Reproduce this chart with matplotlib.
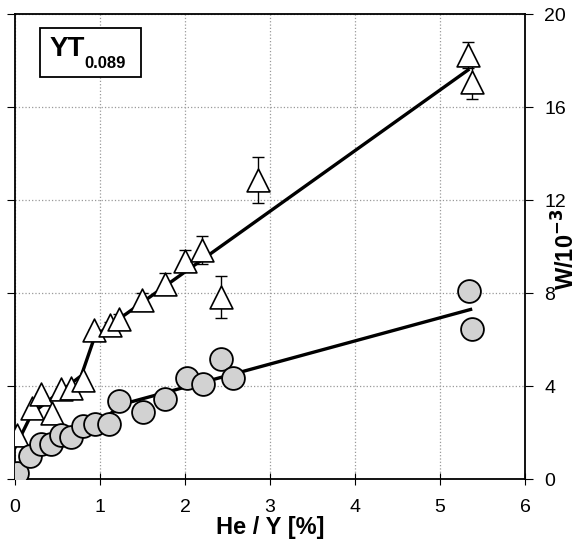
import numpy as np
import matplotlib.pyplot as plt
from matplotlib.patches import Rectangle

plt.rcParams['font.family'] = ['Liberation Sans', 'DejaVu Sans']

# triangles (with error bars)
tri_x = [0.02, 0.20, 0.31, 0.43, 0.54, 0.66, 0.80, 0.93, 1.12, 1.22, 1.50, 1.76, 2.00, 2.20, 2.42, 2.86, 5.33, 5.38]
tri_y = [1.9, 3.05, 3.66, 2.85, 3.87, 3.91, 4.26, 6.41, 6.62, 6.91, 7.70, 8.41, 9.40, 9.85, 7.84, 12.86, 18.24, 17.09]
tri_err = [0, 0, 0, 0, 0, 0, 0, 0, 0.15, 0.2, 0.3, 0.45, 0.45, 0.6, 0.9, 1.0, 0.55, 0.75]
tri_fit_x = [0.0, 0.20, 0.42, 0.78, 0.94, 5.33]
tri_fit_y = [1.35, 2.83, 3.45, 4.45, 6.15, 17.6]

# circles
circ_x = [0.02, 0.18, 0.31, 0.42, 0.54, 0.66, 0.80, 0.94, 1.11, 1.22, 1.51, 1.76, 2.02, 2.21, 2.42, 2.56, 5.34, 5.38]
circ_y = [0.27, 0.99, 1.53, 1.53, 1.89, 1.82, 2.29, 2.37, 2.39, 3.37, 2.87, 3.47, 4.36, 4.11, 5.19, 4.36, 8.10, 6.48]
circ_fit_x = [0.06, 0.22, 0.45, 0.75, 1.04, 1.29, 5.36]
circ_fit_y = [0.46, 1.25, 1.75, 2.2, 2.61, 3.25, 7.30]

fig = plt.figure(figsize=(5.85, 5.47), dpi=100)
ax = fig.add_axes([0.0256, 0.124, 0.8718, 0.850])

ax.grid(True, color='#999999', linestyle=':', linewidth=0.9)
ax.set_axisbelow(True)

ax.plot(tri_fit_x, tri_fit_y, color='black', lw=2.4, zorder=2)
ax.plot(circ_fit_x, circ_fit_y, color='black', lw=2.4, zorder=2)

ax.errorbar(tri_x, tri_y, yerr=tri_err, fmt='none', ecolor='black', elinewidth=1, capsize=4, capthick=1, zorder=3)
ax.scatter(tri_x, tri_y, marker='^', s=270, facecolor='white', edgecolor='black', linewidths=1.2, zorder=4)
ax.scatter(circ_x, circ_y, marker='o', s=270, facecolor='#d2d2d2', edgecolor='black', linewidths=1.3, zorder=4)

ax.set_xlim(0, 6)
ax.set_ylim(0, 20)
ax.set_xticks(range(7))
ax.set_yticks([0, 4, 8, 12, 16, 20])
ax.yaxis.tick_right()
ax.tick_params(axis='y', direction='out', length=6, labelsize=14, pad=8, left=True)
ax.tick_params(axis='x', direction='inout', length=8, labelsize=14, pad=10)
for s in ax.spines.values():
    s.set_linewidth(1.3)

ax.set_xlabel('He / Y [%]', fontsize=17, fontweight='bold', labelpad=0)
fig.text(0.968, 0.545, r'W/10$^{\mathbf{-3}}$', rotation=90, fontsize=17, fontweight='bold',
         ha='center', va='center')

ax.add_patch(Rectangle((0.049, 0.865), 0.198, 0.105, transform=ax.transAxes, facecolor='white',
                       edgecolor='black', linewidth=1.3, zorder=5))
ax.text(0.068, 0.925, 'YT', transform=ax.transAxes, fontsize=20, fontweight='bold',
        va='center', ha='left', zorder=6)
ax.text(0.137, 0.893, '0.089', transform=ax.transAxes, fontsize=12, fontweight='bold',
        va='center', ha='left', zorder=6)

fig.savefig('out.png', dpi=100)
